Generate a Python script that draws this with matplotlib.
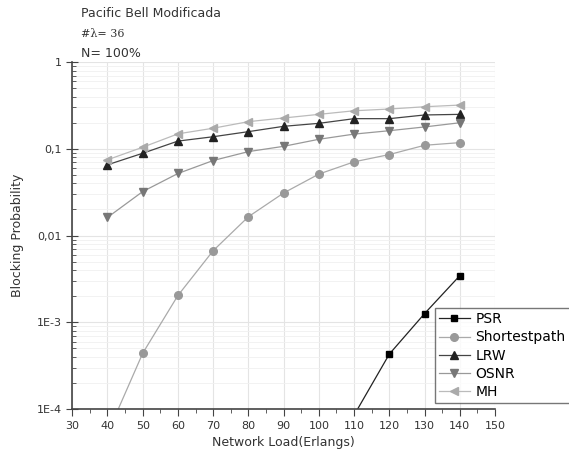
import matplotlib
matplotlib.use("Agg")
import matplotlib.pyplot as plt
from matplotlib.ticker import FixedLocator, FixedFormatter, LogLocator, NullFormatter

# network load (Erlangs)
load = [40, 50, 60, 70, 80, 90, 100, 110, 120, 130, 140]

psr_load = [110, 120, 130, 140]
psr = [8.5e-5, 4.3e-4, 1.26e-3, 3.45e-3]
shortest = [5.2e-5, 4.4e-4, 2.04e-3, 6.7e-3, 0.0165, 0.031, 0.0512, 0.0709, 0.086, 0.110, 0.118]
lrw = [0.0655, 0.089, 0.123, 0.138, 0.158, 0.182, 0.197, 0.223, 0.223, 0.246, 0.25]
osnr = [0.0162, 0.0322, 0.052, 0.0734, 0.093, 0.107, 0.129, 0.148, 0.162, 0.179, 0.2]
mh = [0.0748, 0.1045, 0.149, 0.173, 0.206, 0.227, 0.25, 0.275, 0.288, 0.306, 0.32]

ytick_vals = [1e-4, 1e-3, 1e-2, 1e-1, 1]
ytick_labels = ["1E-4", "1E-3", "0,01", "0,1", "1"]

fig = plt.figure(figsize=(5.69, 4.57), dpi=100)
ax = fig.add_axes([0.127, 0.105, 0.743, 0.759])

ax.plot(psr_load, psr, color="#222222", marker="s", ms=4.5, mfc="black", mec="black", lw=0.9, label="PSR")
ax.plot(load, shortest, color="#aaaaaa", marker="o", ms=5.5, mfc="#999999", mec="#999999", lw=0.9, label="Shortestpath")
ax.plot(load, lrw, color="#444444", marker="^", ms=5.5, mfc="#222222", mec="#222222", lw=0.9, label="LRW")
ax.plot(load, osnr, color="#999999", marker="v", ms=5.5, mfc="#777777", mec="#777777", lw=0.9, label="OSNR")
ax.plot(load, mh, color="#bbbbbb", marker="<", ms=5.5, mfc="#aaaaaa", mec="#aaaaaa", lw=0.9, label="MH")

ax.set_yscale("log")
ax.set_xlim(30, 150)
ax.set_ylim(1e-4, 1)
ax.set_xticks(range(30, 151, 10))
ax.set_xticks(range(35, 150, 10), minor=True)
ax.yaxis.set_major_locator(FixedLocator(ytick_vals))
ax.yaxis.set_major_formatter(FixedFormatter(ytick_labels))
ax.yaxis.set_minor_locator(LogLocator(base=10, subs=range(2, 10)))
ax.yaxis.set_minor_formatter(NullFormatter())

ax.grid(True, which="major", color="#e4e4e4", lw=0.8)
ax.grid(True, which="minor", axis="y", color="#f0f0f0", lw=0.6)
ax.set_axisbelow(True)

for s in ["top", "right"]:
    ax.spines[s].set_visible(False)
for s in ["left", "bottom"]:
    ax.spines[s].set_color("#444444")
    ax.spines[s].set_linewidth(1.2)

ax.tick_params(axis="x", which="major", direction="out", length=5, labelsize=8, colors="#444444", labelcolor="#333333")
ax.tick_params(axis="x", which="minor", direction="out", length=3, colors="#444444")
ax.tick_params(axis="y", which="major", direction="inout", length=8, labelsize=8, colors="#444444", labelcolor="#333333")
ax.tick_params(axis="y", which="minor", direction="in", length=3, colors="#444444")

ax.set_xlabel("Network Load(Erlangs)", fontsize=9, color="#333333", labelpad=4)
ax.set_ylabel("Blocking Probability", fontsize=9, color="#333333", labelpad=9)

fig.text(0.142, 0.971, "Pacific Bell Modificada", fontsize=9, color="#333333", va="center")
fig.text(0.142, 0.925, "#λ= 36", fontsize=8, family="DejaVu Serif", color="#333333", va="center")
fig.text(0.142, 0.883, "N= 100%", fontsize=9, color="#333333", va="center")

leg = ax.legend(loc="lower left", bbox_to_anchor=(0.858, 0.017), fontsize=10, frameon=True,
                fancybox=False, edgecolor="#555555", handlelength=2.2, borderpad=0.3,
                labelspacing=0.3, handletextpad=0.4, borderaxespad=0)
leg.get_frame().set_linewidth(1.0)

fig.savefig("out.png", dpi=100)
